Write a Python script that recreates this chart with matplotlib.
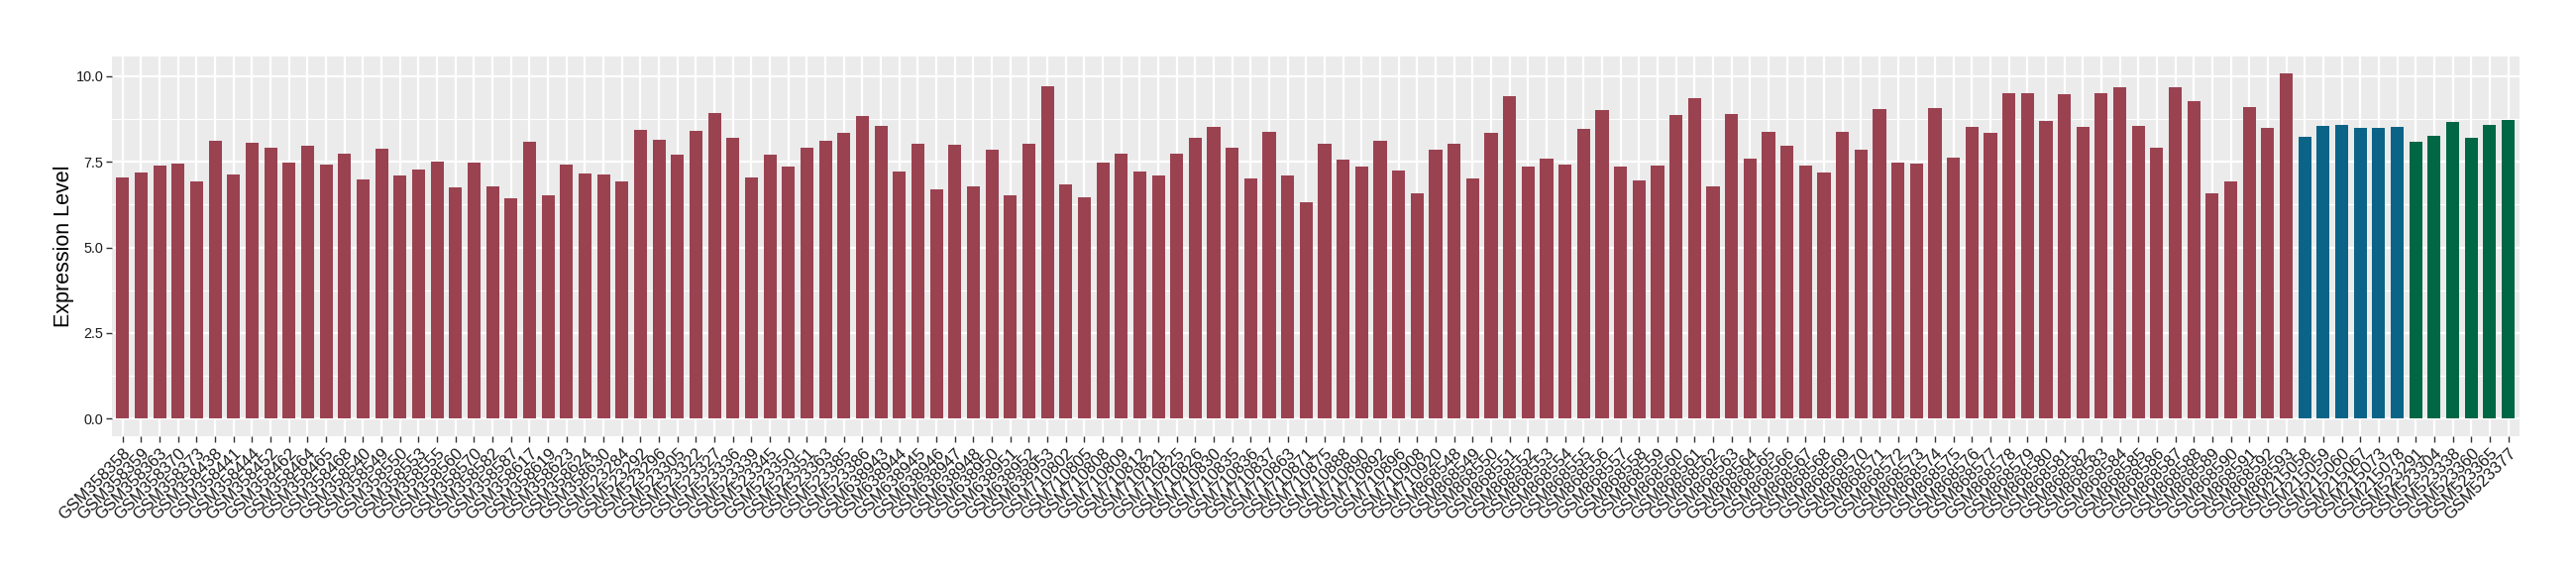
import matplotlib
matplotlib.use("Agg")
import matplotlib.pyplot as plt
from matplotlib.ticker import MultipleLocator
import numpy as np

grp1_ids = ["GSM358358", "GSM358359", "GSM358363", "GSM358370", "GSM358373", "GSM358438",
            "GSM358441", "GSM358444", "GSM358452", "GSM358462", "GSM358464", "GSM358465",
            "GSM358468", "GSM358540", "GSM358549", "GSM358550", "GSM358553", "GSM358555",
            "GSM358560", "GSM358570", "GSM358582", "GSM358587", "GSM358617", "GSM358619",
            "GSM358623", "GSM358624", "GSM358630",
            "GSM523284", "GSM523292", "GSM523296", "GSM523305", "GSM523322", "GSM523327",
            "GSM523336", "GSM523339", "GSM523345", "GSM523350", "GSM523351", "GSM523363",
            "GSM523385", "GSM523386",
            "GSM638943", "GSM638944", "GSM638945", "GSM638946", "GSM638947", "GSM638948",
            "GSM638950", "GSM638951", "GSM638952", "GSM638953",
            "GSM710802", "GSM710805", "GSM710808", "GSM710809", "GSM710812", "GSM710821",
            "GSM710825", "GSM710826", "GSM710830", "GSM710835", "GSM710836", "GSM710837",
            "GSM710863", "GSM710871", "GSM710875", "GSM710888", "GSM710890", "GSM710892",
            "GSM710896", "GSM710908", "GSM710920",
            "GSM868548", "GSM868549", "GSM868550", "GSM868551", "GSM868552", "GSM868553",
            "GSM868554", "GSM868555", "GSM868556", "GSM868557", "GSM868558", "GSM868559",
            "GSM868560", "GSM868561", "GSM868562", "GSM868563", "GSM868564", "GSM868565",
            "GSM868566", "GSM868567", "GSM868568", "GSM868569", "GSM868570", "GSM868571",
            "GSM868572", "GSM868573", "GSM868574", "GSM868575", "GSM868576", "GSM868577",
            "GSM868578", "GSM868579", "GSM868580", "GSM868581", "GSM868582", "GSM868583",
            "GSM868584", "GSM868585", "GSM868586", "GSM868587", "GSM868588", "GSM868589",
            "GSM868590", "GSM868591", "GSM868592", "GSM868593"]
grp1_vals = [7.03, 7.18, 7.38, 7.44, 6.92, 8.11, 7.13, 8.05, 7.90, 7.47, 7.96, 7.41,
             7.75, 6.98, 7.87, 7.10, 7.27, 7.50, 6.75, 7.47, 6.78, 6.43, 8.08, 6.52,
             7.41, 7.16, 7.13,
             6.92, 8.42, 8.14, 7.70, 8.39, 8.92, 8.19, 7.03, 7.70, 7.36, 7.90, 8.11,
             8.34, 8.83,
             8.56, 7.21, 8.02, 6.69, 7.99, 6.78, 7.84, 6.52, 8.02, 9.72,
             6.83, 6.46, 7.47, 7.75, 7.21, 7.10, 7.73, 8.19, 8.51, 7.90, 7.00, 8.36,
             7.10, 6.32, 8.02, 7.56, 7.36, 8.11, 7.24, 6.58, 7.84,
             8.02, 7.00, 8.34, 9.43, 7.36, 7.58, 7.41, 8.45, 9.00, 7.36, 6.95, 7.38,
             8.86, 9.37, 6.78, 8.89, 7.58, 8.36, 7.96, 7.38, 7.18, 8.36, 7.84, 9.03,
             7.47, 7.44, 9.06, 7.61, 8.51, 8.34, 9.49, 9.49, 8.68, 9.46, 8.51, 9.49,
             9.67, 8.56, 7.90, 9.69, 9.26, 6.58, 6.92, 9.11, 8.48, 10.07]

grp2_ids = ["GSM215058", "GSM215059", "GSM215060", "GSM215067", "GSM215073", "GSM215078"]
grp2_vals = [8.22, 8.56, 8.59, 8.48, 8.48, 8.53]

grp3_ids = ["GSM523291", "GSM523304", "GSM523338", "GSM523360", "GSM523365", "GSM523377"]
grp3_vals = [8.08, 8.25, 8.65, 8.19, 8.59, 8.73]

colors = ["#9B4251", "#0B6487", "#006745"]
y_label = "Expression Level"

labels = grp1_ids + grp2_ids + grp3_ids
values = grp1_vals + grp2_vals + grp3_vals
bar_colors = ([colors[0]] * len(grp1_ids) + [colors[1]] * len(grp2_ids)
              + [colors[2]] * len(grp3_ids))

fig = plt.figure(figsize=(26, 5.8), dpi=100)
ax = fig.add_axes([0.0433, 0.2419, 0.978 - 0.0433, 0.9017 - 0.2419])
ax.set_facecolor("#EBEBEB")

x = np.arange(len(labels))
ax.bar(x, values, width=0.7, color=bar_colors, zorder=3)

ax.set_xlim(-0.6, len(labels) - 1 + 0.6)
vmax = max(values)
ax.set_ylim(-0.05 * vmax, vmax * 1.05)

ax.yaxis.set_major_locator(MultipleLocator(2.5))
ax.yaxis.set_minor_locator(MultipleLocator(1.25))
ax.grid(which="major", color="white", linewidth=1.6, zorder=1)
ax.grid(which="minor", axis="y", color="white", linewidth=0.8, zorder=1)
ax.set_axisbelow(True)

for s in ax.spines.values():
    s.set_visible(False)

ax.set_xticks(x)
ax.set_xticklabels(labels, rotation=45, ha="right", rotation_mode="anchor",
                   fontsize=12.2, family="Liberation Sans", color="#1A1A1A")
ax.set_yticks([0, 2.5, 5.0, 7.5, 10.0])
ax.set_yticklabels(["0.0", "2.5", "5.0", "7.5", "10.0"], fontsize=10.4,
                   family="Liberation Sans", color="#1A1A1A")
ax.tick_params(axis="both", which="major", length=4, width=1, color="#333333", pad=2)
ax.tick_params(axis="x", which="major", pad=3)
ax.tick_params(axis="y", which="minor", length=0)

ax.set_ylabel(y_label, fontsize=15.5, family="Liberation Sans", labelpad=1)

fig.savefig("out.png", dpi=100)
